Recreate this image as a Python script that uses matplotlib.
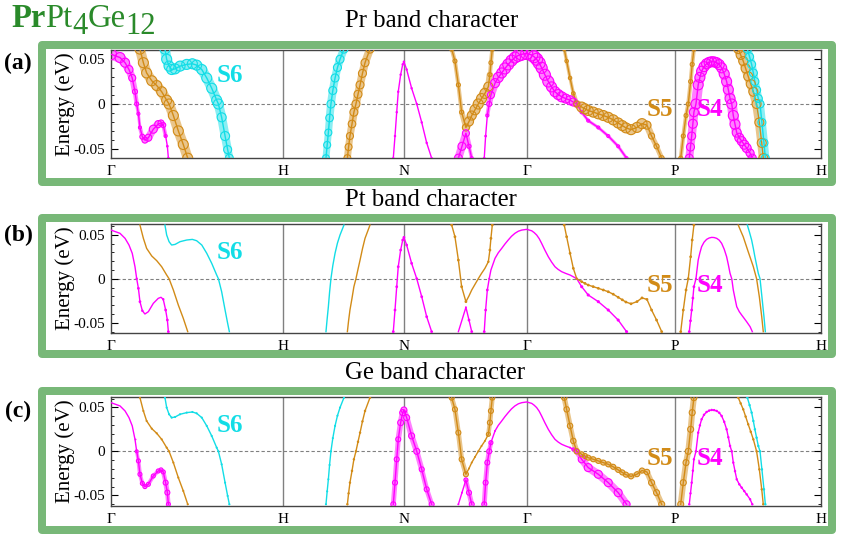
import numpy as np
import matplotlib
matplotlib.use('Agg')
import matplotlib.pyplot as plt
from matplotlib.collections import LineCollection
from matplotlib.colors import to_rgb
from matplotlib.patches import Rectangle

plt.rcParams['font.family'] = ['Liberation Serif', 'DejaVu Serif']

# --- high symmetry path ---
kpts = [0.0, 1.004, 1.710, 2.428, 3.292, 4.145]
klabels = ['Γ', 'H', 'N', 'Γ', 'P', 'H']

MAG = '#ff00ff'
GOLD = '#d28b17'
CYAN = '#12dde6'

# --- bands: k, energy (eV), circle radius (px) for Pr / Pt / Ge character ---
m1_k = [0, .0525, .082, .105, .124, .140, .150, .160, .169, .183, .198, .218, .247, .276, .292, .305, .319, .329, .335]
m1_e = [.0553, .0516, .0459, .0383, .0289, .0137, 0, -.0109, -.0261, -.0364, -.0401, -.0375, -.028, -.0223, -.0211, -.0234, -.0356, -.0469, -.0602]
m1_pr = [5.5, 5, 4.5, 4, 3.5, 2.5, 2, 1.5, 1.5, 2.5, 3, 3.5, 4, 3.5, 3, 2.5, 1.5, 1, 1]
m1_pt = [0, 0, 0, 0, 0, 0, .8, 1, 1, .8, 0, 0, 0, 0, 0, .8, 1, 1, 1]
m1_ge = [0, 0, 0, 0, 0, .5, 1.5, 2, 2, 2, 2, 2, 2, 2, 2, 2, 2.5, 2.5, 2]

o1_k = [.169, .189, .208, .238, .267, .296, .325, .339, .364, .393, .422, .448]
o1_e = [.061, .0459, .0345, .0258, .0205, .0136, .0042, 0, -.0128, -.0299, -.045, -.0602]
o1_pr = [5, 5, 5, 5, 5, 5, 5, 5, 5, 5, 5, 5]
o1_pt = [0] * 12
o1_ge = [.6] * 12

c1_k = [.315, .325, .339, .354, .374, .403, .442, .475, .500, .530, .559, .588, .617, .627, .646, .666, .681, .691]
c1_e = [.061, .0497, .0421, .0383, .039, .0421, .044, .0447, .0432, .0383, .0289, .0175, .0042, 0, -.0148, -.0356, -.0507, -.0602]
c1_pr = [5, 5, 5, 5, 5, 5, 5, 5, 5, 5, 5, 5, 5, 5, 4.5, 4.5, 4, 4]
c1_pt = [0] * 18
c1_ge = [.6] * 18

c2_k = [1.255, 1.262, 1.269, 1.276, 1.284, 1.295, 1.308, 1.322, 1.337, 1.360]
c2_e = [-.0602, -.0455, -.0318, -.0155, 0, .0150, .0289, .0405, .0497, .061]
c2_pr = [3.5, 3.5, 3.5, 3.8, 4, 4, 4, 4, 4, 4]
c2_pt = [0] * 10
c2_ge = [.6] * 10

o2_k = [1.380, 1.387, 1.395, 1.407, 1.418, 1.430, 1.442, 1.454, 1.468, 1.483, 1.512]
o2_e = [-.0602, -.0478, -.0356, -.0222, -.0091, 0, .0108, .0212, .0340, .0459, .061]
o2_pr = [3.5, 3.5, 3.5, 3.8, 4, 4, 4, 4, 4, 4, 4]
o2_pt = [0] * 11
o2_ge = [.8] * 11

m2_k = [1.648, 1.658, 1.668, 1.677, 1.691, 1.703, 1.710, 1.726, 1.755, 1.785, 1.814, 1.843, 1.872]
m2_e = [-.0602, -.0356, -.0091, .0136, .0326, .044, .047, .0383, .0175, 0, -.0205, -.0432, -.0602]
m2_pr = [.8] * 13
m2_pt = [1] * 13
m2_ge = [2.5, 2.5, 2.5, 2.5, 3, 3, 3, 3, 3, 3, 2.5, 2.5, 2.5]

o3_k = [1.989, 2.008, 2.028, 2.047, 2.072, 2.090, 2.106, 2.125, 2.144, 2.163, 2.183, 2.203, 2.212, 2.218, 2.226]
o3_e = [.061, .0477, .0212, -.0091, -.0261, -.0195, -.0128, -.0064, 0, .0060, .0118, .0193, .0326, .0459, .061]
o3_pr = [2, 2, 2, 2, 3.5, 4.5, 4.5, 5, 5, 5, 5, 4.5, 2, 2, 2]
o3_pt = [1, 1, 1, 1, 1, 0, 0, 0, 0, 0, 0, .8, 1, 1, 1]
o3_ge = [2.5, 2.5, 2.5, 2.5, 2.5, .5, .5, .5, .5, .5, .5, 2, 2.5, 2.5, 2.5]

m3_k = [2.028, 2.049, 2.072, 2.090, 2.106]
m3_e = [-.0602, -.047, -.0325, -.047, -.0602]
m3_pr = [4, 4, 3.5, 2, 1.5]
m3_pt = [0, 0, .5, 1, 1]
m3_ge = [.5, .5, 2, 2.5, 2.5]

m4_k = [2.179, 2.187, 2.197, 2.208, 2.218, 2.242, 2.261, 2.281, 2.300, 2.319, 2.338, 2.358, 2.378, 2.398,
        2.427, 2.456, 2.470, 2.485, 2.500, 2.514, 2.533, 2.553, 2.572, 2.592, 2.611, 2.631, 2.655,
        2.680, 2.699, 2.719, 2.748, 2.786, 2.845, 2.903, 2.961, 3.010]
m4_e = [-.0602, -.0356, -.0128, 0, .0099, .0232, .0295, .0345, .0395, .044, .0482, .0516, .0540, .0553,
        .0561, .0545, .0525, .0497, .0455, .0402, .0325, .025, .0190, .0136, .0105, .008, .0060,
        .0042, .0022, 0, -.0091, -.0185, -.0261, -.0356, -.047, -.0602]
m4_pr = [1, 1, 1.5, 2.5, 3.5, 4.5, 5, 5, 5.5, 5.5, 5.5, 5.5, 6, 6, 6, 6, 6, 6, 6, 5.5, 5.5, 5.5, 5, 5,
         5, 5, 4.5, 4.5, 4, 3, 1.5, 1.5, 1.5, 1.5, 1.5, 1.5]
m4_pt = [1, 1, 1, .5] + [0] * 25 + [.5, 1.2, 1.2, 1.2, 1.2, 1.2, 1.2]
m4_ge = [2.5, 2.5, 2.5, 2.5, 2, .5] + [0] * 21 + [.5, 1.5, 2, 3.5, 4, 4, 4, 4, 3.5]

o4_k = [2.646, 2.660, 2.680, 2.699, 2.719, 2.748, 2.767, 2.786, 2.815, 2.845, 2.874, 2.903, 2.932,
        2.961, 2.985, 3.006, 3.036, 3.071, 3.100, 3.129, 3.156, 3.185, 3.215]
o4_e = [.061, .0477, .0289, .0118, 0, -.0034, -.0053, -.0072, -.0090, -.0109, -.0128, -.0148, -.0176,
        -.0211, -.0240, -.0265, -.0285, -.026, -.0218, -.0235, -.0356, -.047, -.0602]
o4_pr = [1.7, 1.7, 1.7, 1.7, 3, 5, 5, 5, 5, 5, 5, 5, 5, 5, 5, 5, 5, 5, 5, 4, 3, 2.5, 2.5]
o4_pt = [1, 1, 1, 1, .8] + [1] * 18
o4_ge = [2.7, 2.7, 2.7, 2.7, 2.7] + [2.5] * 14 + [2.7, 3, 3, 3]

o5_k = [3.326, 3.341, 3.357, 3.370, 3.384, 3.393, 3.403]
o5_e = [-.0602, -.0356, -.0128, 0, .025, .044, .061]
o5_pr = [2] * 7
o5_pt = [1] * 7
o5_ge = [3] * 7

m5_k = [3.376, 3.383, 3.390, 3.397, 3.403, 3.415, 3.428, 3.438, 3.448, 3.462, 3.477, 3.492, 3.507,
        3.521, 3.536, 3.551, 3.565, 3.580, 3.594, 3.604, 3.614, 3.624, 3.633, 3.643, 3.653, 3.668,
        3.682, 3.697, 3.711, 3.731, 3.744]
m5_e = [-.0602, -.0478, -.0356, -.0220, -.0091, 0, .0212, .0295, .0364, .0415, .0447, .0463, .047,
        .0468, .0459, .0438, .0402, .0335, .025, .0160, .0061, 0, -.0128, -.0225, -.0318, -.0375,
        -.0413, -.0452, -.0489, -.0545, -.0602]
m5_pr = [4, 4, 4, 4.5, 4.5, 5] + [5] * 18 + [4.5, 4.5, 4.5, 4.5, 4.5, 4, 4]
m5_pt = [1, 1, 1, 1, 1, .5] + [0] * 25
m5_ge = [.8] * 31

o6_k = [3.662, 3.676, 3.691, 3.705, 3.720, 3.735, 3.750, 3.769, 3.785, 3.799, 3.808]
o6_e = [.061, .0545, .0477, .0395, .0307, .0222, .0136, 0, -.0205, -.0432, -.0602]
o6_pr = [4.5] * 11
o6_pt = [0] * 11
o6_ge = [.8] * 11

c3_k = [3.715, 3.728, 3.740, 3.750, 3.759, 3.769, 3.779, 3.789, 3.800, 3.812, 3.820]
c3_e = [.061, .0525, .044, .0345, .025, .0155, .0061, 0, -.0205, -.0432, -.0602]
c3_pr = [4] * 11
c3_pt = [0] * 11
c3_ge = [.8] * 11

bands = [
    (m1_k, m1_e, MAG, m1_pr, m1_pt, m1_ge),
    (o1_k, o1_e, GOLD, o1_pr, o1_pt, o1_ge),
    (c1_k, c1_e, CYAN, c1_pr, c1_pt, c1_ge),
    (c2_k, c2_e, CYAN, c2_pr, c2_pt, c2_ge),
    (o2_k, o2_e, GOLD, o2_pr, o2_pt, o2_ge),
    (m2_k, m2_e, MAG, m2_pr, m2_pt, m2_ge),
    (o3_k, o3_e, GOLD, o3_pr, o3_pt, o3_ge),
    (m3_k, m3_e, MAG, m3_pr, m3_pt, m3_ge),
    (m4_k, m4_e, MAG, m4_pr, m4_pt, m4_ge),
    (o4_k, o4_e, GOLD, o4_pr, o4_pt, o4_ge),
    (o5_k, o5_e, GOLD, o5_pr, o5_pt, o5_ge),
    (m5_k, m5_e, MAG, m5_pr, m5_pt, m5_ge),
    (o6_k, o6_e, GOLD, o6_pr, o6_pt, o6_ge),
    (c3_k, c3_e, CYAN, c3_pr, c3_pt, c3_ge),
]

titles = ['Pr band character', 'Pt band character', 'Ge band character']
panel_tags = ['(a)', '(b)', '(c)']
label_names = ['S6', 'S5', 'S4']
label_colors = [CYAN, GOLD, MAG]
label_k = [0.692, 3.202, 3.497]
label_e = [[0.032, -0.006, -0.006], [0.030, -0.008, -0.008], [0.029, -0.008, -0.008]]

W, H = 841, 539
fig = plt.figure(figsize=(W / 100, H / 100), dpi=100)
PT = 0.72  # points per pixel

# layout in pixels
ax_left, ax_right = 111, 821
ax_tops = [50, 224, 397.3]
ax_bots = [158, 333, 505.7]
ylims = [(-0.059, 0.058), (-0.0617, 0.0622), (-0.0618, 0.0614)]
frame_tops = [44.5, 217.5, 391.3]
frame_bots = [181.7, 354, 529.5]
title_x = [431.5, 431, 435.5]
title_y = [21, 200, 373]
tag_y = [63, 235, 411]
FRAME = '#78b878'


def tint(c, f):
    r = np.array(to_rgb(c))
    return tuple(1 - f * (1 - r))


def draw_band(ax, k, e, w, color):
    k = np.asarray(k)
    e = np.asarray(e)
    w = np.asarray(w, dtype=float)
    # fat-band ribbon
    pts = np.column_stack([k, e]).reshape(-1, 1, 2)
    segs = np.concatenate([pts[:-1], pts[1:]], axis=1)
    wid = np.where((w[:-1] >= 1.5) & (w[1:] >= 1.5), (w[:-1] + w[1:]) * PT, 0)
    lc = LineCollection(segs, linewidths=wid, colors=[tint(color, 0.5)],
                        capstyle='round', joinstyle='round', zorder=2)
    ax.add_collection(lc)
    ax.plot(k, e, color=color, lw=1.0, zorder=3)
    big = w >= 1.5
    small = (w > 0) & (w < 1.5)
    ax.scatter(k[big], e[big], s=(2 * w[big] * PT) ** 2, facecolors='none',
               edgecolors=color, linewidths=0.8, zorder=4)
    ax.scatter(k[small], e[small], s=(1.2 * w[small] + 0.8) ** 2, color=color,
               linewidths=0, zorder=4)


for p in range(3):
    ax = fig.add_axes([ax_left / W, 1 - ax_bots[p] / H,
                       (ax_right - ax_left) / W, (ax_bots[p] - ax_tops[p]) / H])
    for b in bands:
        draw_band(ax, b[0], b[1], b[3 + p], b[2])
    ax.set_xlim(kpts[0], kpts[-1])
    ax.set_ylim(*ylims[p])
    for kv in kpts[1:-1]:
        ax.axvline(kv, color='#808080', lw=1.0, zorder=1)
    ax.axhline(0, color='#808080', lw=0.8, ls=(0, (3, 2)), zorder=1)
    ax.set_xticks(kpts)
    ax.set_xticklabels(klabels, fontsize=11)
    ax.tick_params(axis='x', length=0, pad=5)
    ax.set_yticks([0.05, 0, -0.05])
    ax.set_yticklabels(['0.05', '0', '-0.05'], fontsize=11)
    ax.set_yticks(np.arange(-0.06, 0.061, 0.01), minor=True)
    ax.tick_params(axis='y', which='both', direction='in', left=True, right=True)
    ax.tick_params(axis='y', which='major', length=5, pad=4)
    ax.tick_params(axis='y', which='minor', length=2.5)
    for s in ax.spines.values():
        s.set_color('#444444')
        s.set_linewidth(1.0)
    for i in range(3):
        ax.text(label_k[i], label_e[p][i], label_names[i], color=label_colors[i],
                fontsize=18, fontweight='bold', ha='center', va='center', zorder=6)

    yc = 1 - (ax_tops[p] + ax_bots[p]) / 2 / H
    fig.text(65 / W, yc, 'Energy (eV)', rotation=90, ha='center', va='center', fontsize=15)
    fig.text(18 / W, 1 - tag_y[p] / H, panel_tags[p], ha='center', va='center',
             fontsize=17, fontweight='bold')
    fig.text(title_x[p] / W, 1 - title_y[p] / H, titles[p], ha='center', va='center', fontsize=17.8)
    fig.add_artist(Rectangle((41.7 / W, 1 - frame_bots[p] / H), (832 - 41.7) / W,
                             (frame_bots[p] - frame_tops[p]) / H, transform=fig.transFigure,
                             fill=False, edgecolor=FRAME, lw=8 * PT, joinstyle='round'))

# compound name, pieces chained left to right
GREEN = '#2a8a2a'
renderer = fig.canvas.get_renderer()
name_parts = [('Pr', 23.5, 'bold', 0), ('Pt', 23.5, 'normal', 0), ('4', 22, 'normal', 6),
              ('Ge', 23.5, 'normal', 0), ('12', 22, 'normal', 6)]
x = 11.0
for txt, size, weight, dy in name_parts:
    t = fig.text(x / W, 1 - (27.5 + dy) / H, txt, color=GREEN, fontsize=size,
                 fontweight=weight, va='baseline')
    x = t.get_window_extent(renderer).x1

fig.savefig('out.png', dpi=100)
